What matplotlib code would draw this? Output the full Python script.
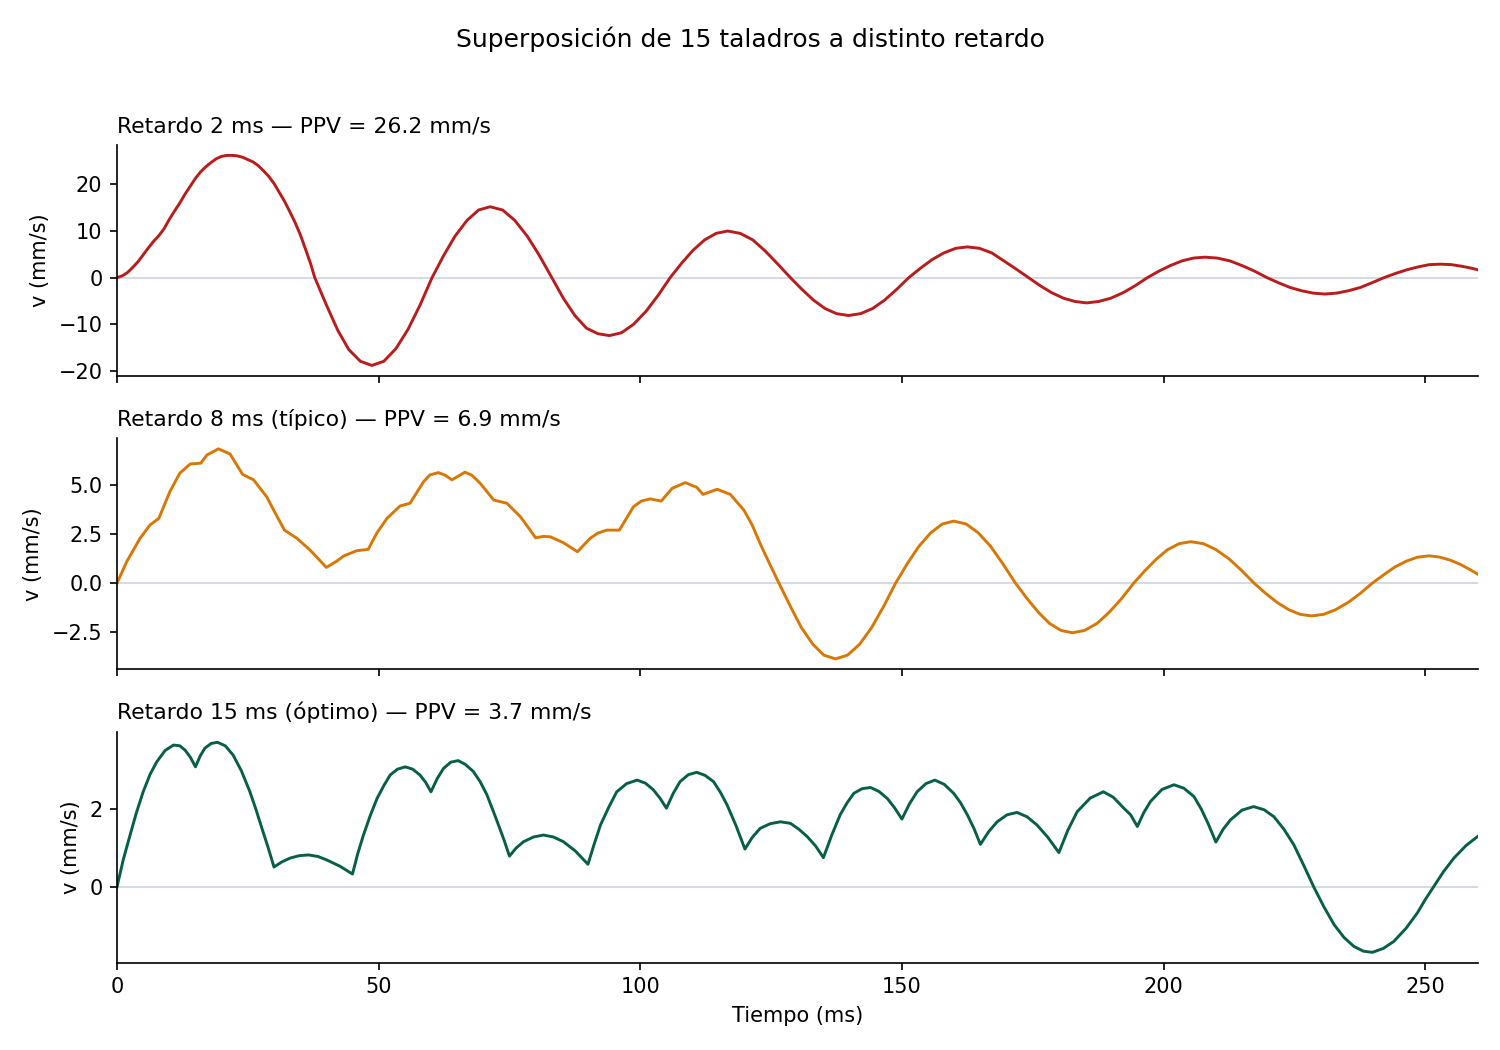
import numpy as np
import matplotlib
matplotlib.use('Agg')
import matplotlib.pyplot as plt

# Retardo 2 ms
t_2ms = [0, 1, 2, 3, 4, 5, 6, 7, 8, 9, 10, 11, 12, 13, 14, 15, 16, 17, 18, 19,
         20, 21, 22, 23, 24, 25, 26, 27, 28, 29, 30, 31, 32, 33, 34, 35, 36, 37,
         37.8, 40.0, 42.2, 44.3, 46.5, 48.7, 51.0, 53.3, 55.6, 57.9, 60.2,
         62.4, 64.6, 66.9, 69.1, 71.3, 73.7, 76.0, 78.4, 80.7, 83.1,
         85.3, 87.5, 89.7, 91.9, 94.1, 96.4, 98.7, 101.1, 103.4, 105.7,
         107.9, 110.1, 112.3, 114.5, 116.7, 119.1, 121.5, 123.9, 126.3, 128.7,
         130.9, 133.1, 135.3, 137.5, 139.8, 142.1, 144.4, 146.7, 149.0, 151.3,
         153.5, 155.8, 158.0, 160.3, 162.5, 164.8, 167.2, 169.5, 171.9, 174.2,
         176.4, 178.6, 180.9, 183.1, 185.3, 187.6, 189.9, 192.3, 194.6, 196.9,
         199.1, 201.3, 203.5, 205.7, 207.9, 210.3, 212.7, 215.0, 217.4, 219.8,
         222.0, 224.2, 226.4, 228.6, 230.8, 233.1, 235.3, 237.6, 239.8, 242.1,
         244.3, 246.5, 248.6, 250.8, 253.0, 255.0, 257.0, 259.0, 260]
v_2ms = [0, 0.4, 1.1, 2.2, 3.4, 4.9, 6.4, 7.8, 9.0, 10.5, 12.5, 14.3, 16.0, 17.9,
         19.6, 21.3, 22.7, 23.8, 24.7, 25.5, 26.0, 26.2, 26.2, 26.1, 25.8, 25.3,
         24.8, 24.0, 22.9, 21.7, 20.2, 18.3, 16.4, 14.2, 11.9, 9.3, 6.2, 3.0,
         0, -5.8, -11.3, -15.4, -17.9, -18.8, -17.9, -15.2, -11.1, -5.9, 0,
         4.7, 8.9, 12.3, 14.5, 15.2, 14.5, 12.3, 8.9, 4.8, 0,
         -4.4, -8.1, -10.8, -12.0, -12.4, -11.8, -10.0, -7.2, -3.8, 0,
         3.1, 5.9, 8.1, 9.5, 10.0, 9.5, 8.1, 5.7, 2.9, 0,
         -2.5, -4.8, -6.6, -7.7, -8.1, -7.7, -6.6, -4.8, -2.5, 0,
         2.0, 3.9, 5.3, 6.3, 6.6, 6.3, 5.3, 3.6, 1.8, 0,
         -1.7, -3.2, -4.4, -5.1, -5.4, -5.1, -4.4, -3.2, -1.7, 0,
         1.4, 2.6, 3.6, 4.2, 4.4, 4.2, 3.6, 2.6, 1.4, 0,
         -1.1, -2.1, -2.8, -3.3, -3.5, -3.3, -2.8, -2.1, -1.1, 0,
         0.9, 1.7, 2.3, 2.8, 2.9, 2.8, 2.45, 2.0, 1.7]

# Retardo 8 ms
t_8ms = [0, 1.85, 4.4, 6.3, 8.0, 10.1, 12.0, 14.0, 16.0, 17.2, 19.4, 21.6, 24.0,
         26.1, 28.6, 30.2, 32.0, 34.4, 36.9, 38.4, 40.0, 42.0, 43.3, 45.8, 48.0,
         49.7, 51.6, 54.1, 56.0, 58.6, 59.8, 61.4, 62.7, 64.0, 66.5, 67.8, 69.4,
         72.0, 74.5, 77.1, 78.5, 80.0, 81.5, 82.8, 85.3, 88.0, 90.4, 91.9, 93.6,
         96.0, 98.7, 100.2, 101.9, 104.0, 106.1, 108.6, 110.8, 112.0, 114.7,
         117.2, 119.8, 121.4, 122.9, 124.6, 126.5,
         128.7, 130.8, 133.0, 135.1, 137.3, 139.6, 141.9, 144.2, 146.5, 148.8,
         151.0, 153.2, 155.5, 157.7, 159.9, 162.3, 164.6, 167.0, 169.3, 171.7,
         173.9, 176.1, 178.2, 180.4, 182.6, 184.9, 187.3, 189.6, 192.0, 194.3,
         196.5, 198.7, 200.8, 203.0, 205.2, 207.6, 210.0, 212.5, 214.9, 217.3,
         219.5, 221.7, 223.9, 226.1, 228.3, 230.6, 232.9, 235.3, 237.6, 239.9,
         242.1, 244.2, 246.4, 248.5, 250.7, 252.7, 254.7, 256.7, 258.5, 260]
v_8ms = [0, 1.09, 2.28, 2.96, 3.30, 4.66, 5.60, 6.07, 6.11, 6.53, 6.84, 6.58, 5.54,
         5.26, 4.40, 3.59, 2.70, 2.28, 1.68, 1.26, 0.80, 1.12, 1.38, 1.65, 1.72,
         2.57, 3.30, 3.93, 4.07, 5.17, 5.51, 5.63, 5.50, 5.26, 5.65, 5.50, 5.09,
         4.23, 4.07, 3.38, 2.87, 2.31, 2.38, 2.36, 2.06, 1.60, 2.28, 2.55, 2.70,
         2.70, 3.89, 4.18, 4.29, 4.18, 4.83, 5.12, 4.88, 4.52, 4.78,
         4.52, 3.72, 2.95, 2.02, 1.05, 0,
         -1.19, -2.27, -3.12, -3.67, -3.86, -3.67, -3.12, -2.27, -1.19, 0,
         0.98, 1.86, 2.56, 3.01, 3.16, 3.01, 2.56, 1.86, 0.98, 0,
         -0.78, -1.49, -2.05, -2.41, -2.53, -2.41, -2.05, -1.49, -0.78, 0,
         0.65, 1.24, 1.71, 2.01, 2.11, 2.01, 1.71, 1.24, 0.65, 0,
         -0.52, -0.98, -1.35, -1.59, -1.67, -1.59, -1.35, -0.98, -0.52, 0,
         0.43, 0.82, 1.12, 1.32, 1.39, 1.33, 1.18, 0.96, 0.70, 0.46]

# Retardo 15 ms
t_15ms = [0, 1.2, 2.5, 3.7, 5.0, 6.3, 7.6, 9.2, 10.8, 12.0, 13.0, 14.0, 15.0,
          15.9, 16.8, 18.0, 19.2, 20.7, 22.2, 23.8, 25.4, 26.6, 27.7, 28.9, 30.0,
          31.5, 33.1, 34.8, 36.6, 38.4, 40.1, 42.6, 45.0,
          46.0, 47.1, 48.4, 49.7, 51.0, 52.2, 53.6, 55.1, 56.5, 57.9, 59.0, 60.0,
          61.2, 62.4, 63.8, 65.2, 66.6, 68.1, 69.4, 70.7, 71.8, 72.9, 74.0, 75.0,
          76.3, 77.7, 79.6, 81.5, 83.4, 85.3, 87.6, 90.0,
          91.2, 92.4, 94.0, 95.5, 97.4, 99.4, 101.0, 102.5, 103.8, 105.0,
          106.3, 107.6, 109.2, 110.8, 112.4, 114.0, 115.3, 116.6, 118.3, 120.0,
          121.4, 122.9, 124.8, 126.8, 128.7, 130.3, 131.9, 133.5, 135.0,
          136.6, 138.2, 139.5, 140.8, 142.4, 144.0, 145.6, 147.2, 148.6, 150.0,
          151.4, 152.9, 154.6, 156.3, 158.1, 159.9, 161.2, 162.5, 163.8, 165.0,
          166.6, 168.2, 170.1, 172.0, 173.9, 175.8, 177.9, 180.0,
          181.7, 183.5, 186.0, 188.5, 190.4, 192.4, 193.7, 195.0,
          196.2, 197.5, 199.7, 202.0, 203.9, 205.8, 207.2, 208.6, 210.0,
          211.4, 212.8, 215.0, 217.2, 219.2, 221.1, 223.0, 224.9, 226.8, 228.7,
          230.6, 232.6, 234.5, 236.4, 238.2, 239.9, 242.0, 244.0, 246.3, 248.5,
          250.0, 251.6, 253.5, 255.5, 257.8, 260]
v_15ms = [0, 0.70, 1.33, 1.90, 2.44, 2.88, 3.21, 3.50, 3.64, 3.62, 3.51, 3.33, 3.08,
          3.36, 3.56, 3.68, 3.71, 3.62, 3.38, 2.97, 2.44, 1.97, 1.50, 1.00, 0.51,
          0.64, 0.74, 0.80, 0.82, 0.78, 0.69, 0.53, 0.33,
          0.85, 1.33, 1.83, 2.27, 2.60, 2.87, 3.02, 3.08, 3.02, 2.87, 2.68, 2.44,
          2.78, 3.04, 3.20, 3.24, 3.14, 2.96, 2.70, 2.36, 1.98, 1.59, 1.19, 0.79,
          1.00, 1.16, 1.28, 1.33, 1.28, 1.16, 0.92, 0.58,
          1.10, 1.59, 2.05, 2.44, 2.65, 2.74, 2.66, 2.49, 2.27, 2.02,
          2.40, 2.70, 2.88, 2.94, 2.86, 2.70, 2.43, 2.10, 1.57, 0.97,
          1.27, 1.50, 1.62, 1.67, 1.63, 1.48, 1.29, 1.05, 0.75,
          1.33, 1.85, 2.15, 2.40, 2.52, 2.55, 2.45, 2.27, 2.03, 1.74,
          2.12, 2.44, 2.65, 2.74, 2.63, 2.40, 2.16, 1.85, 1.49, 1.09,
          1.42, 1.67, 1.85, 1.91, 1.80, 1.59, 1.27, 0.88,
          1.45, 1.93, 2.28, 2.44, 2.30, 2.02, 1.85, 1.55,
          1.90, 2.19, 2.50, 2.62, 2.53, 2.32, 2.00, 1.60, 1.15,
          1.48, 1.72, 1.97, 2.06, 1.98, 1.80, 1.48, 1.08, 0.55, 0,
          -0.50, -0.97, -1.30, -1.53, -1.65, -1.68, -1.58, -1.40, -1.07, -0.67,
          -0.33, 0, 0.39, 0.74, 1.06, 1.29]

titulos = ['Retardo 2 ms — PPV = 26.2 mm/s',
           'Retardo 8 ms (típico) — PPV = 6.9 mm/s',
           'Retardo 15 ms (óptimo) — PPV = 3.7 mm/s']
colores = ['#b91c1c', '#d97706', '#065f46']
series = [(t_2ms, v_2ms), (t_8ms, v_8ms), (t_15ms, v_15ms)]

fig, axes = plt.subplots(3, 1, figsize=(10, 7), dpi=150, sharex=True)
fig.subplots_adjust(left=0.078, right=0.985, top=0.862, bottom=0.083, hspace=0.27)

for ax, (t, v), titulo, color in zip(axes, series, titulos, colores):
    ax.axhline(0, color='#cbd5e1', lw=0.8, zorder=1)
    ax.plot(t, v, color=color, lw=1.4, zorder=2)
    ax.set_title(titulo, loc='left', fontsize=10.5)
    ax.set_ylabel('v (mm/s)')
    ax.spines['top'].set_visible(False)
    ax.spines['right'].set_visible(False)

axes[-1].set_xlim(0, 260)
axes[-1].set_xlabel('Tiempo (ms)')
fig.suptitle('Superposición de 15 taladros a distinto retardo', fontsize=12, y=0.975)

plt.savefig('out.png', dpi=150)
